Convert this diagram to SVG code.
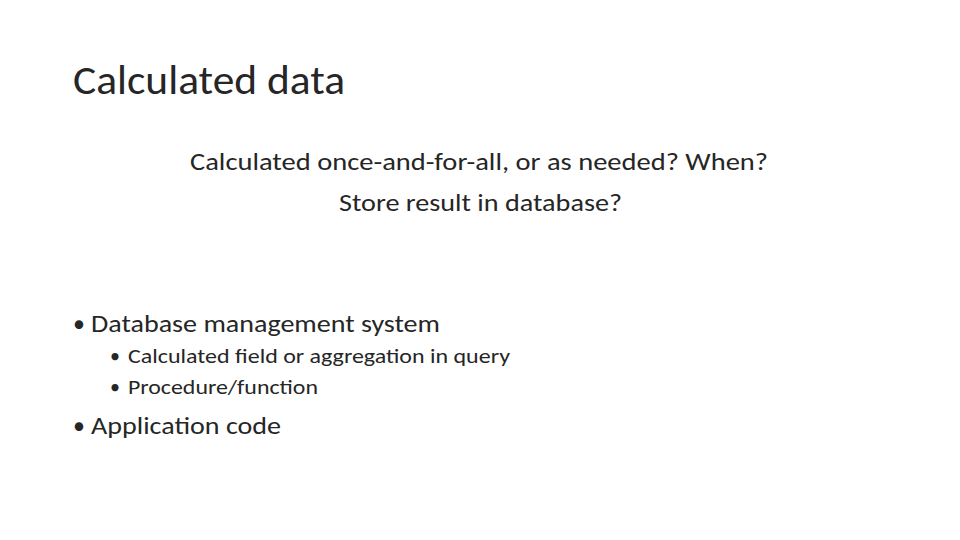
<svg xmlns="http://www.w3.org/2000/svg" width="960" height="540" viewBox="0 0 960 540">
<style>
text{font-family:"Carlito","Liberation Sans",sans-serif;fill:#262626}
.t{font-size:40px}.b{font-size:24px}.s{font-size:20px}
</style>
<rect width="960" height="540" fill="#fff"/>
<text class="t" x="73" y="94" textLength="272" lengthAdjust="spacingAndGlyphs">Calculated data</text>
<text class="b" x="190" y="170" textLength="578" lengthAdjust="spacingAndGlyphs">Calculated once-and-for-all, or as needed?  When?</text>
<text class="b" x="339" y="211" textLength="283" lengthAdjust="spacingAndGlyphs">Store result in database?</text>
<text class="b" x="73" y="332">•</text>
<text class="b" x="91" y="332" textLength="349" lengthAdjust="spacingAndGlyphs">Database management system</text>
<text class="s" x="110" y="363">•</text>
<text class="s" x="128" y="363" textLength="382" lengthAdjust="spacingAndGlyphs">Calculated field or aggregation in query</text>
<text class="s" x="110" y="394">•</text>
<text class="s" x="128" y="394" textLength="190" lengthAdjust="spacingAndGlyphs">Procedure/function</text>
<text class="b" x="73" y="434">•</text>
<text class="b" x="91" y="434" textLength="190" lengthAdjust="spacingAndGlyphs">Application code</text>
</svg>
